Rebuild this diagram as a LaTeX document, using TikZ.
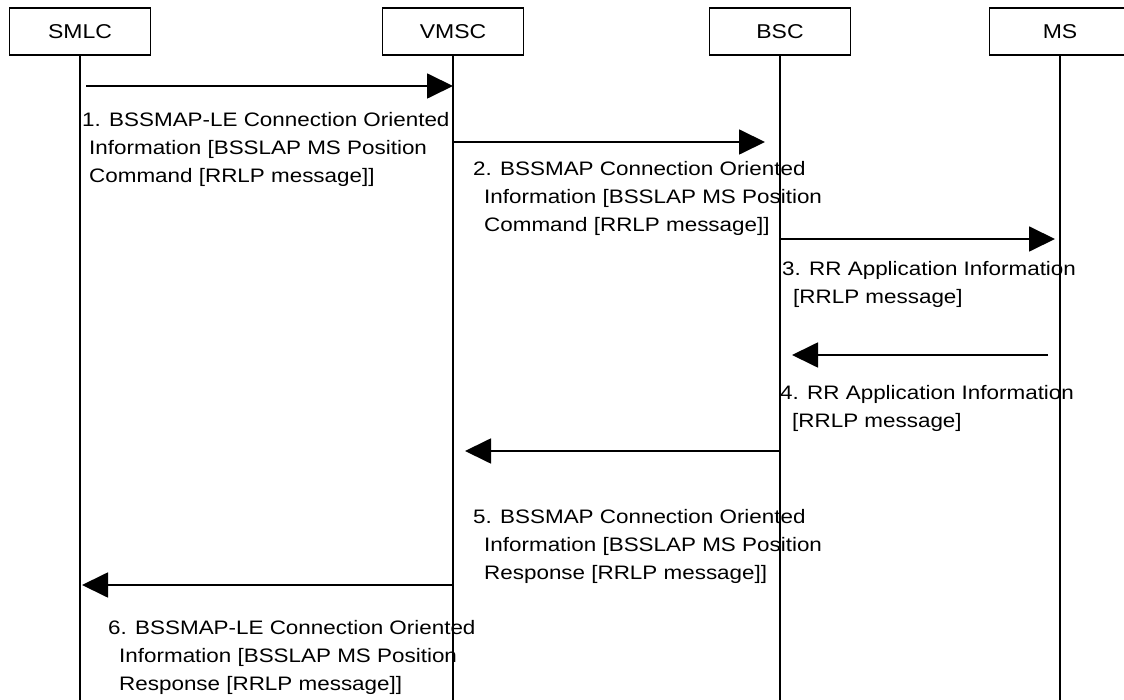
\documentclass[tikz,border=0pt]{standalone}
\usepackage{fontspec}
\setmainfont{Liberation Sans}[FakeStretch=1.15]
\usetikzlibrary{arrows.meta}

\begin{document}
\begin{tikzpicture}[
    x=1pt,y=-1pt,
    entity/.style={draw,line width=1.8pt,minimum width=141pt,minimum height=47pt,inner sep=0pt,font=\fontsize{20}{28}\selectfont},
    lifeline/.style={line width=1.8pt},
    msg/.style={-{Triangle[length=26pt,width=25pt]},line width=1.8pt},
    lbl/.style={anchor=base west,inner sep=0pt,align=left,font=\fontsize{19.5}{28}\selectfont}
  ]
    \useasboundingbox (0,0) rectangle (1124,700);
    % entities
    \node[entity] (smlc) at (80,31.5) {SMLC};
    \node[entity] (vmsc) at (453,31.5) {VMSC};
    \node[entity] (bsc) at (780,31.5) {BSC};
    \node[entity] (ms) at (1060,31.5) {MS};
    \coordinate (smlc-end) at (80,700);
    \coordinate (vmsc-end) at (453,700);
    \coordinate (bsc-end) at (780,700);
    \coordinate (ms-end) at (1060,700);
    \draw[lifeline] (smlc.south)--(smlc-end);
    \draw[lifeline] (vmsc.south)--(vmsc-end);
    \draw[lifeline] (bsc.south)--(bsc-end);
    \draw[lifeline] (ms.south)--(ms-end);
    % message ends
    \coordinate (m1-from) at (86,86);
    \coordinate (m1-to) at (453,86);
    \coordinate (m2-from) at (453,142);
    \coordinate (m2-to) at (765,142);
    \coordinate (m3-from) at (780,239);
    \coordinate (m3-to) at (1055,239);
    \coordinate (m4-from) at (1048,355);
    \coordinate (m4-to) at (792,355);
    \coordinate (m5-from) at (780,451);
    \coordinate (m5-to) at (465,451);
    \coordinate (m6-from) at (453,585);
    \coordinate (m6-to) at (82,585);
    \draw[msg] (m1-from)--(m1-to);
    \draw[msg] (m2-from)--(m2-to);
    \draw[msg] (m3-from)--(m3-to);
    \draw[msg] (m4-from)--(m4-to);
    \draw[msg] (m5-from)--(m5-to);
    \draw[msg] (m6-from)--(m6-to);
    % labels (base = last line)
    \node[lbl] (l1) at (82,183) {1. BSSMAP-LE Connection Oriented\\\hspace*{7pt}Information [BSSLAP MS Position\\\hspace*{7pt}Command [RRLP message]]};
    \node[lbl] (l2) at (473,232) {2. BSSMAP Connection Oriented\\\hspace*{11pt}Information [BSSLAP MS Position\\\hspace*{11pt}Command [RRLP message]]};
    \node[lbl] (l3) at (782,304) {3. RR Application Information\\\hspace*{11pt}[RRLP message]};
    \node[lbl] (l4) at (780,427) {4. RR Application Information\\\hspace*{12pt}[RRLP message]};
    \node[lbl] (l5) at (473,579) {5. BSSMAP Connection Oriented\\\hspace*{11pt}Information [BSSLAP MS Position\\\hspace*{11pt}Response [RRLP message]]};
    \node[lbl] (l6) at (108,690) {6. BSSMAP-LE Connection Oriented\\\hspace*{11pt}Information [BSSLAP MS Position\\\hspace*{11pt}Response [RRLP message]]};
\end{tikzpicture}
\end{document}
